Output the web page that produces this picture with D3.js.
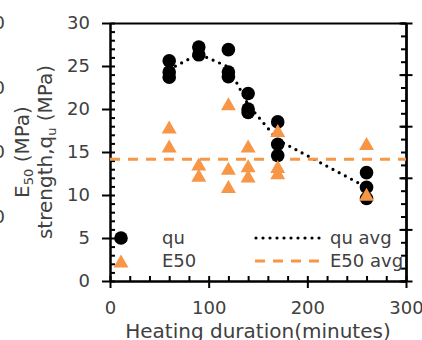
<!DOCTYPE html>
<html>
<head>
<meta charset="utf-8">
<script src="https://cdn.jsdelivr.net/npm/d3@7"></script>
<style>
body { margin: 0; background: #fff; }
svg { display: block; font-family: "DejaVu Sans", sans-serif; }
.axis path, .axis line { stroke: #000; stroke-width: 2; }
.axis text { fill: #404040; font-size: 18px; font-family: "DejaVu Sans", sans-serif; }
.lbl { fill: #404040; font-size: 18px; }
</style>
</head>
<body>
<div id="chart"></div>
<script>
// qu measurements (heating minutes, MPa)
var quTime = [60, 60, 60, 90, 90, 120, 120, 120, 140, 140, 140, 170, 170, 170, 260, 260, 260];
var quVal  = [25.6, 24.3, 23.7, 27.2, 26.3, 26.9, 24.3, 23.75, 21.8, 20.0, 19.6, 18.5, 15.9, 14.6, 12.6, 10.9, 9.6];

// E50 measurements
var e50Time = [60, 60, 90, 90, 120, 120, 120, 140, 140, 140, 170, 170, 170, 260, 260];
var e50Val  = [17.9, 15.7, 13.6, 12.3, 20.6, 13.1, 11.0, 15.7, 13.4, 12.2, 17.5, 13.3, 12.6, 16.0, 10.1];

// averages
var avgTime = [60, 90, 120, 140, 170, 260];
var quAvg   = [24.6, 26.4, 24.9, 20.5, 16.4, 10.9];
var e50Avg  = 14.15;

var xTicks = [0, 100, 200, 300];
var yTicks = [0, 5, 10, 15, 20, 25, 30];
var legendNames = ["qu", "E50", "qu avg", "E50 avg"];
// labels of the neighbouring axis, clipped at the left edge
var sideLabels = [10, 20, 30, 40];

var orange = "#F79646";
var width = 422, height = 340;

var svg = d3.select("#chart").append("svg")
    .attr("width", width)
    .attr("height", height);

var x = d3.scaleLinear().domain([0, 300]).range([110, 406]);
var y = d3.scaleLinear().domain([0, 30]).range([281, 23]);
var y2 = d3.scaleLinear().domain([0, 50]).range([281, 23]);
var ySide = d3.scaleLinear().domain([0, 40]).range([281, 23]);

// left axis: minor inward, major outward
svg.append("g").attr("class", "axis")
    .attr("transform", "translate(110,0)")
    .call(d3.axisLeft(y).tickValues(d3.range(0, 31, 1)).tickSize(-5).tickSizeOuter(0).tickFormat(""));
svg.append("g").attr("class", "axis")
    .attr("transform", "translate(110,0)")
    .call(d3.axisLeft(y).tickValues(yTicks).tickSize(8).tickSizeOuter(0).tickPadding(12));

// bottom axis
svg.append("g").attr("class", "axis")
    .attr("transform", "translate(0,281)")
    .call(d3.axisBottom(x).tickValues(d3.range(0, 301, 20)).tickSize(-5).tickSizeOuter(0).tickFormat(""));
svg.append("g").attr("class", "axis")
    .attr("transform", "translate(0,281)")
    .call(d3.axisBottom(x).tickValues(xTicks).tickSize(7).tickSizeOuter(0).tickPadding(13));

// top border
svg.append("g").attr("class", "axis")
    .attr("transform", "translate(0,23)")
    .call(d3.axisTop(x).tickValues([]).tickSizeOuter(0));

// right (secondary) axis, labels fall outside the picture
svg.append("g").attr("class", "axis")
    .attr("transform", "translate(406,0)")
    .call(d3.axisRight(y2).tickValues(d3.range(0, 51, 2.5)).tickSize(-5).tickSizeOuter(0).tickFormat(""));
svg.append("g").attr("class", "axis")
    .attr("transform", "translate(406,0)")
    .call(d3.axisRight(y2).tickValues(d3.range(0, 51, 10)).tickSize(6.5).tickSizeOuter(0).tickFormat(""));
svg.append("g").attr("class", "axis")
    .attr("transform", "translate(406,0)")
    .call(d3.axisRight(y2).tickValues(d3.range(0, 51, 10)).tickSize(-6.5).tickSizeOuter(0).tickFormat(""));

svg.selectAll("text.side")
    .data(sideLabels)
    .enter().append("text")
    .attr("class", "lbl side")
    .attr("x", 5)
    .attr("y", function(d) { return ySide(d); })
    .attr("dy", "0.36em")
    .attr("text-anchor", "end")
    .text(function(d) { return d; });

// average lines
var line = d3.line()
    .x(function(d, i) { return x(avgTime[i]); })
    .y(function(d) { return y(d); });

svg.append("path")
    .attr("d", line(quAvg))
    .attr("fill", "none")
    .attr("stroke", "#000")
    .attr("stroke-width", 3.2)
    .attr("stroke-linecap", "round")
    .attr("stroke-dasharray", "0 7");

svg.append("line")
    .attr("x1", x(0)).attr("x2", x(300))
    .attr("y1", y(e50Avg)).attr("y2", y(e50Avg))
    .attr("stroke", orange)
    .attr("stroke-width", 3)
    .attr("stroke-dasharray", "10 8");

// markers
function tri(cx, cy) {
    var w = 7.5, h = 6.5;
    return "M" + cx + "," + (cy - h) + "L" + (cx + w) + "," + (cy + h) + "L" + (cx - w) + "," + (cy + h) + "Z";
}

svg.selectAll("circle.qu")
    .data(quVal)
    .enter().append("circle")
    .attr("class", "qu")
    .attr("cx", function(d, i) { return x(quTime[i]); })
    .attr("cy", function(d) { return y(d); })
    .attr("r", 6.8)
    .attr("fill", "#000");

svg.selectAll("path.e50")
    .data(e50Val)
    .enter().append("path")
    .attr("class", "e50")
    .attr("d", function(d, i) { return tri(x(e50Time[i]), y(d)); })
    .attr("fill", orange);

// legend
var lg = svg.append("g");
lg.append("circle").attr("cx", 121).attr("cy", 238).attr("r", 6.8).attr("fill", "#000");
lg.append("path").attr("d", tri(121, 261)).attr("fill", orange);
lg.append("line").attr("x1", 256).attr("x2", 320).attr("y1", 238).attr("y2", 238)
    .attr("stroke", "#000").attr("stroke-width", 3.2)
    .attr("stroke-linecap", "round").attr("stroke-dasharray", "0 7");
lg.append("line").attr("x1", 255).attr("x2", 322).attr("y1", 261).attr("y2", 261)
    .attr("stroke", orange).attr("stroke-width", 3).attr("stroke-dasharray", "10 8");
lg.selectAll("text")
    .data(legendNames)
    .enter().append("text")
    .attr("class", "lbl")
    .attr("x", function(d, i) { return i < 2 ? 162 : 330; })
    .attr("y", function(d, i) { return i % 2 == 0 ? 238 : 261; })
    .attr("dy", "0.36em")
    .text(function(d) { return d; });

// axis titles
svg.append("text")
    .attr("class", "lbl")
    .attr("x", 258).attr("y", 338)
    .attr("text-anchor", "middle")
    .style("font-size", "20px")
    .text("Heating duration(minutes)");

var t1 = svg.append("text")
    .attr("class", "lbl")
    .attr("transform", "translate(52,152) rotate(-90)")
    .attr("text-anchor", "middle")
    .style("font-size", "20px");
t1.append("tspan").text("strength,q");
t1.append("tspan").attr("dy", 4).style("font-size", "13px").text("u");
t1.append("tspan").attr("dy", -4).text(" (MPa)");

var t2 = svg.append("text")
    .attr("class", "lbl")
    .attr("transform", "translate(29,152) rotate(-90)")
    .attr("text-anchor", "middle")
    .style("font-size", "20px");
t2.append("tspan").text("E");
t2.append("tspan").attr("dy", 4).style("font-size", "13px").text("50");
t2.append("tspan").attr("dy", -4).text(" (MPa)");
</script>
</body>
</html>
